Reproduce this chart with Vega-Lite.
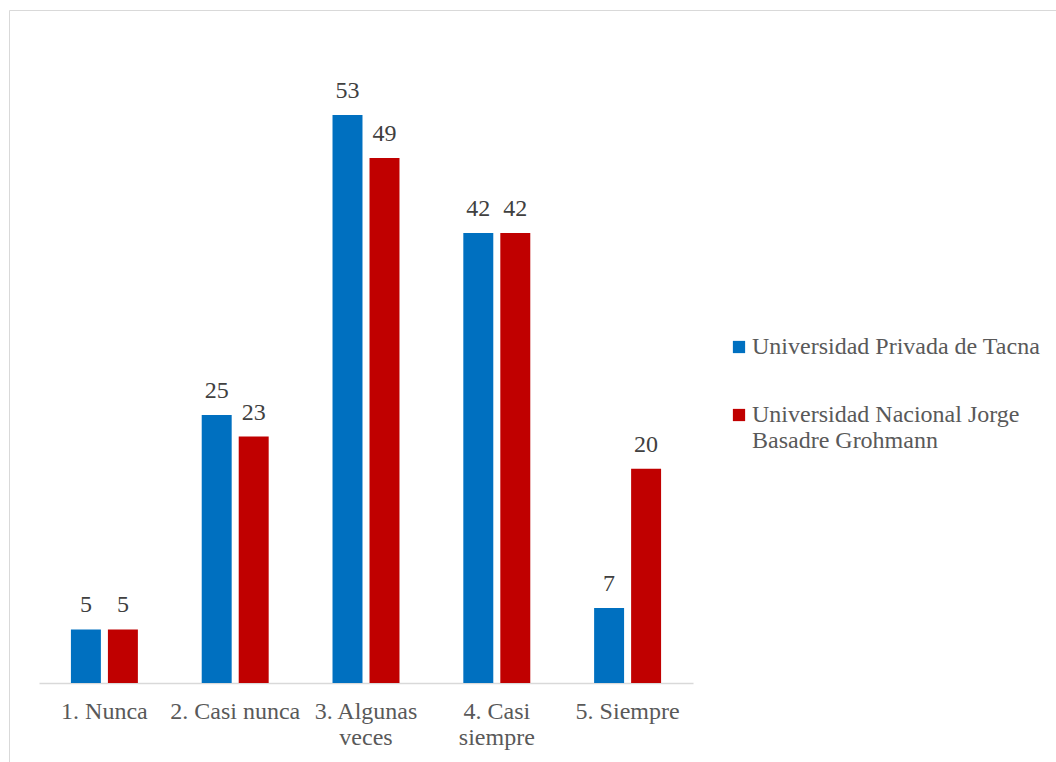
{
  "$schema": "https://vega.github.io/schema/vega-lite/v6.json",
  "width": 1047,
  "height": 752,
  "autosize": {"type": "none"},
  "padding": {"left": 9, "top": 10, "right": 0, "bottom": 0},
  "background": "white",
  "config": {
    "view": {"stroke": "#d9d9d9", "strokeWidth": 1},
    "font": "Liberation Serif"
  },
  "data": {
    "values": [
      {"categoria": "1. Nunca", "universidad": "Universidad Privada de Tacna", "valor": 5},
      {"categoria": "1. Nunca", "universidad": "Universidad Nacional Jorge Basadre Grohmann", "valor": 5},
      {"categoria": "2. Casi nunca", "universidad": "Universidad Privada de Tacna", "valor": 25},
      {"categoria": "2. Casi nunca", "universidad": "Universidad Nacional Jorge Basadre Grohmann", "valor": 23},
      {"categoria": "3. Algunas veces", "universidad": "Universidad Privada de Tacna", "valor": 53},
      {"categoria": "3. Algunas veces", "universidad": "Universidad Nacional Jorge Basadre Grohmann", "valor": 49},
      {"categoria": "4. Casi siempre", "universidad": "Universidad Privada de Tacna", "valor": 42},
      {"categoria": "4. Casi siempre", "universidad": "Universidad Nacional Jorge Basadre Grohmann", "valor": 42},
      {"categoria": "5. Siempre", "universidad": "Universidad Privada de Tacna", "valor": 7},
      {"categoria": "5. Siempre", "universidad": "Universidad Nacional Jorge Basadre Grohmann", "valor": 20}
    ]
  },
  "encoding": {
    "x": {
      "field": "categoria",
      "type": "nominal",
      "sort": null,
      "scale": {"range": [30, 684], "paddingInner": 0.488, "paddingOuter": 0.244},
      "axis": {
        "title": null,
        "orient": "bottom",
        "offset": -79,
        "domainColor": "#d9d9d9",
        "domainWidth": 1.5,
        "ticks": false,
        "grid": false,
        "labelAngle": 0,
        "labelFont": "Liberation Serif",
        "labelFontSize": 24,
        "labelColor": "#595959",
        "labelBaseline": "alphabetic",
        "labelPadding": 35,
        "labelLineHeight": 26,
        "labelLimit": 0,
        "labelExpr": "datum.label == '3. Algunas veces' ? ['3. Algunas', 'veces'] : datum.label == '4. Casi siempre' ? ['4. Casi', 'siempre'] : datum.label"
      }
    },
    "xOffset": {
      "field": "universidad",
      "type": "nominal",
      "sort": ["Universidad Privada de Tacna", "Universidad Nacional Jorge Basadre Grohmann"],
      "scale": {"paddingInner": 0.19, "paddingOuter": 0}
    },
    "y": {
      "field": "valor",
      "type": "quantitative",
      "scale": {"domain": [0, 60], "range": [673, 30]},
      "axis": null
    }
  },
  "layer": [
    {
      "mark": {"type": "bar"},
      "encoding": {
        "color": {
          "field": "universidad",
          "type": "nominal",
          "sort": ["Universidad Privada de Tacna", "Universidad Nacional Jorge Basadre Grohmann"],
          "scale": {
            "domain": ["Universidad Privada de Tacna", "Universidad Nacional Jorge Basadre Grohmann"],
            "range": ["#0070C0", "#C00000"]
          },
          "legend": {
            "title": null,
            "orient": "none",
            "legendX": 718,
            "legendY": 325,
            "padding": 0,
            "symbolType": "square",
            "symbolSize": 150,
            "symbolStrokeWidth": 0,
            "labelFont": "Liberation Serif",
            "labelFontSize": 24,
            "labelColor": "#595959",
            "labelLimit": 400,
            "labelOffset": 1,
            "labelBaseline": "alphabetic",
            "labelLineHeight": 26,
            "rowPadding": 44,
            "labelExpr": "datum.label == 'Universidad Nacional Jorge Basadre Grohmann' ? ['Universidad Nacional Jorge', 'Basadre Grohmann'] : datum.label",
            "encode": {"labels": {"update": {"dy": {"value": 7}}}}
          }
        }
      }
    },
    {
      "mark": {
        "type": "text",
        "baseline": "alphabetic",
        "dy": -17,
        "font": "Liberation Serif",
        "fontSize": 24,
        "color": "#404040"
      },
      "encoding": {
        "text": {"field": "valor", "type": "quantitative"}
      }
    }
  ]
}
